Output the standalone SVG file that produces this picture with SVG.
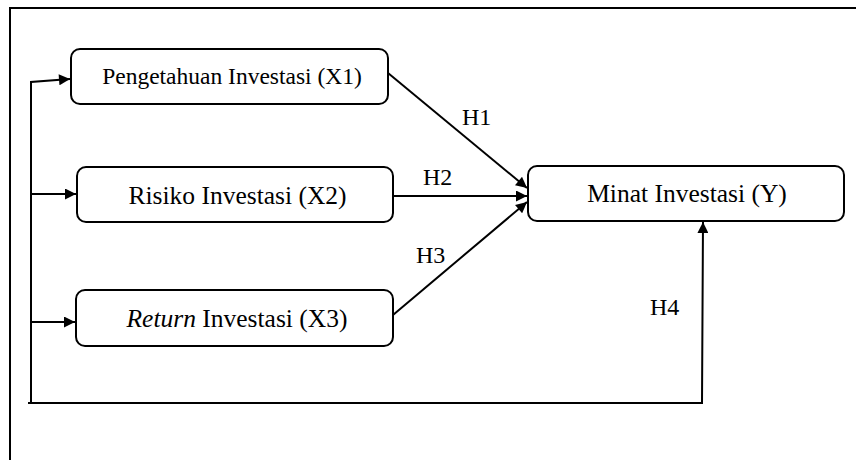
<svg xmlns="http://www.w3.org/2000/svg" width="856" height="460" viewBox="0 0 856 460">
<style>
.box{fill:#fff;stroke:#000;stroke-width:2}
.ln{fill:none;stroke:#000;stroke-width:2}
text{font-family:'Liberation Serif','Times New Roman',Times,serif;font-size:25.5px;fill:#000}
.h{font-size:24px}
.s{font-size:23.5px}
</style>
<defs>
<marker id="ah2" viewBox="0 0 10 10" refX="10" refY="5" markerWidth="12" markerHeight="11" markerUnits="userSpaceOnUse" orient="auto">
<path d="M0,0 L10,5 L0,10 z" fill="#000"/>
</marker>
</defs>
<rect x="0" y="0" width="856" height="460" fill="#fff"/>
<path class="ln" d="M10,461 L10,8 L857,8"/>
<g id="connectors">
<path class="ln" d="M31,403 L31,82 L70,79" marker-end="url(#ah2)"/>
<path class="ln" d="M31,194 L76,194" marker-end="url(#ah2)"/>
<path class="ln" d="M31,322 L75,322" marker-end="url(#ah2)"/>
<path class="ln" d="M28,403 L702,403 L703,222" marker-end="url(#ah2)"/>
<path class="ln" d="M388,73 L527,188" marker-end="url(#ah2)"/>
<path class="ln" d="M393,196 L527,196" marker-end="url(#ah2)"/>
<path class="ln" d="M393,315 L527,202" marker-end="url(#ah2)"/>
<text class="h" x="462" y="125">H1</text>
<text class="h" x="423" y="185">H2</text>
<text class="h" x="416" y="263">H3</text>
<text class="h" x="650" y="315">H4</text>
</g>
<g id="x1">
<rect class="box" x="71" y="49" width="317" height="55" rx="9"/>
<text class="s" x="232" y="84" text-anchor="middle">Pengetahuan Investasi (X1)</text>
</g>
<g id="x2">
<rect class="box" x="77" y="167" width="316" height="55" rx="9"/>
<text x="237.5" y="204" text-anchor="middle">Risiko Investasi (X2)</text>
</g>
<g id="x3">
<rect class="box" x="76" y="290" width="317" height="56" rx="9"/>
<text x="237" y="327" text-anchor="middle"><tspan font-style="italic">Return</tspan> Investasi (X3)</text>
</g>
<g id="y">
<rect class="box" x="528" y="166" width="316" height="55" rx="9"/>
<text x="687" y="202" text-anchor="middle">Minat Investasi (Y)</text>
</g>
</svg>
